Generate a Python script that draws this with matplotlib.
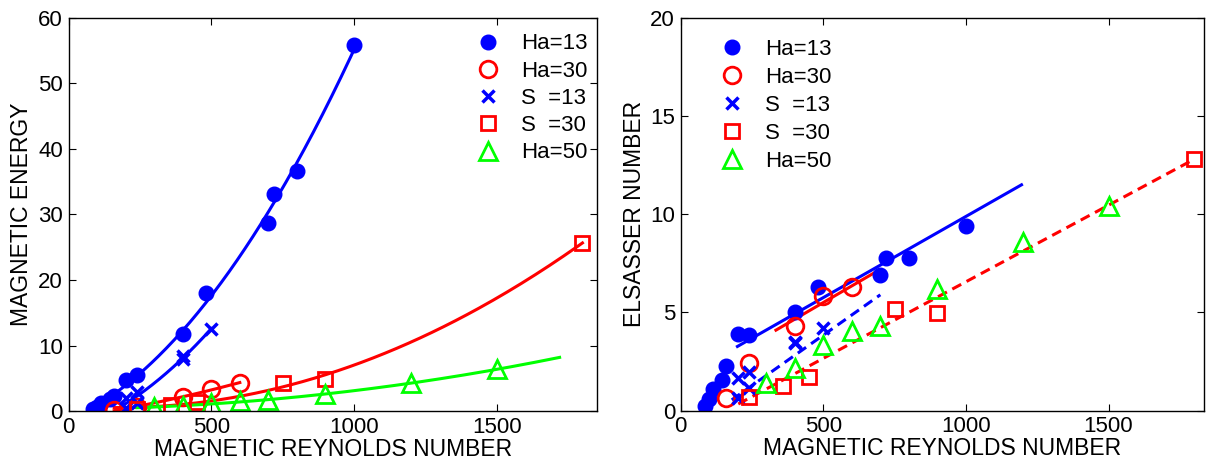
import numpy as np
import matplotlib
matplotlib.use('Agg')
import matplotlib.pyplot as plt

plt.rcParams['font.family'] = ['Liberation Sans', 'DejaVu Sans']

# magnetic Reynolds number of each run
ha13_rm = [85, 100, 115, 145, 160, 200, 240, 400, 480, 700, 720, 800, 1000]
ha30_rm = [160, 240, 400, 500, 600]
s13_rm = [200, 200, 240, 240, 400, 400, 500]
s30_rm = [240, 360, 450, 750, 900, 1800]
ha50_rm = [300, 400, 500, 600, 700, 900, 1200, 1500]

# magnetic energy (left panel)
ha13_energy = [0.4, 0.7, 1.2, 1.8, 2.4, 4.8, 5.5, 11.8, 18.0, 28.7, 33.1, 36.6, 55.8]
ha30_energy = [0.2, 0.6, 2.2, 3.4, 4.3]
s13_energy = [0.5, 2.1, 1.2, 3.0, 8.0, 8.4, 12.5]
s30_energy = [0.4, 0.9, 1.46, 4.36, 4.9, 25.7]
ha50_energy = [0.6, 0.85, 1.2, 1.5, 1.7, 2.6, 4.3, 6.4]

# Elsasser number (right panel)
ha13_els = [0.24, 0.58, 1.09, 1.57, 2.30, 3.91, 3.86, 5.0, 6.3, 6.92, 7.77, 7.77, 9.42]
ha30_els = [0.63, 2.45, 4.29, 5.82, 6.3]
s13_els = [0.63, 1.68, 1.14, 1.99, 3.44, 3.52, 4.2]
s30_els = [0.68, 1.26, 1.7, 5.19, 4.97, 12.79]
ha50_els = [1.43, 2.16, 3.35, 4.07, 4.32, 6.19, 8.6, 10.4]

# linear fits in the right panel (end points)
ha13_fit_rm = [199, 1195]
ha13_fit_els = [3.27, 11.5]
ha30_fit_rm = [334, 693]
ha30_fit_els = [4.1, 7.14]
s13_fit_rm = [179, 700]
s13_fit_els = [0.55, 5.9]
s30_fit_rm = [202, 1800]
s30_fit_els = [0.34, 12.8]

labels = ['Ha=13', 'Ha=30', 'S  =13', 'S  =30', 'Ha=50']
blue, red, green = (0, 0, 1), (1, 0, 0), (0, 1, 0)
lw = 2.2
dash = (3.3, 2)

mk = {
    'Ha=13': dict(marker='o', ms=10.5, mfc=blue, mec=blue, mew=1),
    'Ha=30': dict(marker='o', ms=12, mfc='none', mec=red, mew=2),
    'S  =13': dict(marker='x', ms=8, mec=blue, mew=2.5),
    'S  =30': dict(marker='s', ms=10, mfc='none', mec=red, mew=2),
    'Ha=50': dict(marker='^', ms=13, mfc='none', mec=green, mew=2),
}

fig = plt.figure(figsize=(12.06, 4.66), dpi=100)
ax1 = fig.add_axes([0.0568, 0.1174, 0.438, 0.845])
ax2 = fig.add_axes([0.5644, 0.1187, 0.434, 0.843])


def quad_curve(ax, x, y, x0, x1, color):
    c = np.polyfit(x, y, 2)
    xs = np.linspace(x0, x1, 200)
    ax.plot(xs, np.polyval(c, xs), color=color, lw=lw)


# left panel: quadratic fits through the energy data
quad_curve(ax1, ha13_rm, ha13_energy, 85, 1000, blue)
quad_curve(ax1, s13_rm, s13_energy, 170, 500, blue)
quad_curve(ax1, ha30_rm, ha30_energy, 160, 600, red)
quad_curve(ax1, s30_rm, s30_energy, 160, 1800, red)
quad_curve(ax1, ha50_rm, ha50_energy, 240, 1720, green)

series1 = [(ha13_rm, ha13_energy), (ha30_rm, ha30_energy), (s13_rm, s13_energy),
           (s30_rm, s30_energy), (ha50_rm, ha50_energy)]
for (x, y), lab in zip(series1, labels):
    ax1.plot(x, y, linestyle='none', label=lab, **mk[lab])

# right panel
ax2.plot(ha13_fit_rm, ha13_fit_els, color=blue, lw=lw)
ax2.plot(ha30_fit_rm, ha30_fit_els, color=red, lw=lw)
ax2.plot(s13_fit_rm, s13_fit_els, color=blue, lw=lw, dashes=dash)
ax2.plot(s30_fit_rm, s30_fit_els, color=red, lw=lw, dashes=dash)

series2 = [(ha13_rm, ha13_els), (ha30_rm, ha30_els), (s13_rm, s13_els),
           (s30_rm, s30_els), (ha50_rm, ha50_els)]
for (x, y), lab in zip(series2, labels):
    ax2.plot(x, y, linestyle='none', label=lab, **mk[lab])

ax1.set_xlim(0, 1850)
ax1.set_ylim(0, 60)
ax1.set_xticks([0, 500, 1000, 1500])
ax1.set_yticks([0, 10, 20, 30, 40, 50, 60])
ax1.set_xlabel('MAGNETIC REYNOLDS NUMBER', fontsize=16.5, labelpad=0)
ax1.set_ylabel('MAGNETIC ENERGY', fontsize=16.5, labelpad=4)

ax2.set_xlim(0, 1835)
ax2.set_ylim(0, 20)
ax2.set_xticks([0, 500, 1000, 1500])
ax2.set_yticks([0, 5, 10, 15, 20])
ax2.set_xlabel('MAGNETIC REYNOLDS NUMBER', fontsize=16.5, labelpad=0)
ax2.set_ylabel('ELSASSER NUMBER', fontsize=16.5, labelpad=3)

for ax in (ax1, ax2):
    ax.tick_params(direction='in', top=True, right=True, length=5, width=0.8,
                   labelsize=16, pad=4)
    for s in ax.spines.values():
        s.set_linewidth(1)

ax1.legend(loc='upper right', bbox_to_anchor=(1.0, 0.982), frameon=False, numpoints=1,
           fontsize=16, handlelength=1.0, handletextpad=1.0, labelspacing=0.28,
           borderaxespad=0.0)
ax2.legend(loc='upper left', bbox_to_anchor=(0.047, 0.987), frameon=False, numpoints=1,
           fontsize=16, handlelength=1.0, handletextpad=1.0, labelspacing=0.32,
           borderaxespad=0.3)

fig.savefig('out.png', dpi=100)
